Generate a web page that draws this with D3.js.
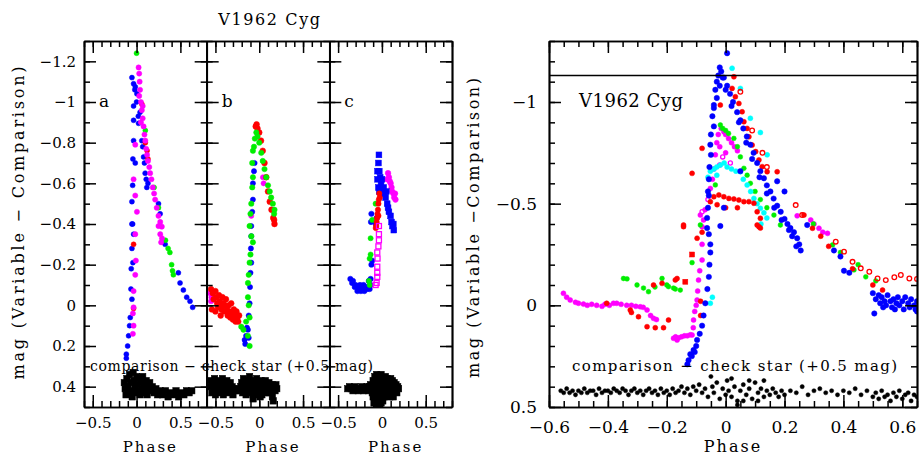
<!DOCTYPE html>
<html>
<head>
<meta charset="utf-8">
<script src="https://cdn.jsdelivr.net/npm/d3@7"></script>
<style>
  body { margin: 0; background: #fff; }
  text { font-family: "DejaVu Serif", serif; fill: #000; }
</style>
</head>
<body>
<div id="my_dataviz"></div>
<script>
// ---- data: [phase, mag] ----
var aBlue = [[-0.053,-1.12],[-0.034,-1.09],[-0.015,-1.075],[0.004,-1.04],[-0.02,-1.06],[0.0,-1.0],[-0.034,-0.98],[0.04,-0.95],
  [0.02,-0.93],[-0.034,-0.91],[0.023,-0.895],[-0.034,-0.81],[0.06,-0.81],[0.07,-0.78],[0.08,-0.73],[-0.042,-0.72],[-0.015,-0.70],
  [0.09,-0.70],[0.098,-0.65],[0.11,-0.62],[0.13,-0.60],[-0.045,-0.59],[0.117,-0.58],[-0.053,-0.51],[0.25,-0.50],[0.269,-0.45],
  [-0.053,-0.40],[-0.045,-0.40],[-0.034,-0.35],[-0.053,-0.28],[-0.042,-0.21],[-0.061,-0.18],[-0.064,-0.08],[-0.053,-0.03],
  [-0.072,0.06],[-0.08,0.10],[-0.091,0.15],[-0.102,0.20],[-0.117,0.24],[-0.117,0.26],[0.307,-0.31],[0.326,-0.30],[0.477,-0.16],
  [0.496,-0.11],[0.534,-0.075],[0.572,-0.04],[0.61,-0.02],[0.64,0.01]];
var aMagenta = [[0.023,-1.17],[0.03,-1.14],[0.035,-1.10],[0.04,-1.06],[0.03,-1.03],[0.05,-1.00],[0.06,-0.96],[0.07,-0.92],
  [0.08,-0.88],[0.09,-0.84],[0.10,-0.81],[0.11,-0.77],[0.12,-0.74],[0.13,-0.71],[0.145,-0.68],[0.155,-0.65],[0.17,-0.62],
  [0.185,-0.58],[0.20,-0.55],[0.212,-0.52],[0.23,-0.48],[0.25,-0.44],[0.27,-0.41],[0.288,-0.387],[0.25,-0.39],[0.27,-0.35],
  [0.29,-0.33],[0.28,-0.31],[-0.015,-0.79],[-0.034,-0.62],[-0.015,-0.54],[0.004,-0.46],[-0.015,-0.35],[-0.008,-0.22],
  [-0.015,-0.15],[-0.034,-0.07],[-0.034,0.01],[-0.042,0.04],[-0.034,0.10],[-0.042,0.14],[0.05,-0.90],[0.07,-0.98]];
var aRed = [[0.06,-0.99],[0.10,-0.80],[0.12,-0.76],[0.13,-0.72],[-0.034,-0.30],[-0.034,0.015]];
var aGreen = [[0.0,-1.24],[0.10,-0.86],[0.20,-0.58],[0.25,-0.48],[0.33,-0.32],[0.36,-0.28],[0.38,-0.26],[0.40,-0.20],
  [0.41,-0.17],[0.42,-0.15]];
var aCheck = [[-0.14,0.38],[-0.13,0.41],[-0.12,0.44],[-0.11,0.36],[-0.10,0.40],[-0.09,0.43],[-0.08,0.34],[-0.07,0.38],
  [-0.06,0.42],[-0.05,0.45],[-0.04,0.33],[-0.03,0.37],[-0.02,0.40],[-0.01,0.43],[0.0,0.35],[0.01,0.39],[0.02,0.42],[0.03,0.36],
  [0.04,0.44],[0.05,0.38],[0.06,0.41],[0.07,0.35],[0.08,0.43],[0.09,0.39],[0.10,0.42],[0.11,0.37],[0.12,0.44],[0.13,0.40],
  [0.15,0.38],[0.16,0.42],[0.18,0.40],[0.20,0.43],[0.22,0.41],[0.24,0.44],[0.27,0.42],[0.30,0.44],[0.33,0.42],[0.36,0.45],
  [0.39,0.43],[0.42,0.44],[0.45,0.42],[0.48,0.45],[0.51,0.43],[0.54,0.44],[0.57,0.42],[0.60,0.43],[0.63,0.42]];

var bRed = [[-0.04,-0.88],[-0.03,-0.89],[-0.02,-0.87],[0.0,-0.85],[0.02,-0.81],[0.04,-0.76],[0.06,-0.70],[0.08,-0.63],
  [0.10,-0.56],[0.12,-0.51],[0.14,-0.47],[0.16,-0.43],[0.174,-0.40],[0.17,-0.42],
  [-0.55,-0.08],[-0.53,-0.06],[-0.52,-0.03],[-0.50,-0.07],[-0.49,-0.04],[-0.48,-0.01],[-0.47,0.01],[-0.46,-0.05],[-0.45,-0.02],
  [-0.44,0.0],[-0.43,0.02],[-0.42,-0.04],[-0.41,-0.01],[-0.40,0.03],[-0.39,0.0],[-0.38,-0.03],[-0.37,0.02],[-0.36,0.05],
  [-0.35,0.0],[-0.34,0.03],[-0.33,0.06],[-0.32,-0.01],[-0.31,0.04],[-0.30,0.07],[-0.29,0.02],[-0.28,0.05],[-0.27,0.08],
  [-0.26,0.03],[-0.25,0.06],[-0.24,0.08],[-0.23,0.05],[-0.54,0.02],[-0.50,0.03],[-0.44,0.05]];
var bGreen = [[-0.034,-0.85],[-0.02,-0.83],[0.0,-0.80],[0.023,-0.75],[0.04,-0.71],[0.06,-0.67],[0.08,-0.63],[0.10,-0.59],
  [0.12,-0.56],[0.136,-0.53],[0.155,-0.50],[0.174,-0.47],[0.17,-0.45],[-0.05,-0.82],[-0.06,-0.78],[-0.072,-0.76],[-0.08,-0.70],
  [-0.072,-0.63],[-0.08,-0.58],[-0.091,-0.50],[-0.10,-0.45],[-0.11,-0.39],[-0.09,-0.34],[-0.072,-0.31],[-0.10,-0.25],
  [-0.11,-0.21],[-0.12,-0.15],[-0.129,-0.11],[-0.129,-0.04],[-0.12,0.0],[-0.11,0.06],[-0.15,0.08],[-0.205,0.105],[-0.18,0.12],
  [-0.13,0.15],[-0.11,0.20]];
var bBlue = [[-0.053,-0.70],[-0.06,-0.66],[-0.072,-0.60],[-0.072,-0.52],[-0.08,-0.46],[-0.091,-0.39],[-0.091,-0.34],
  [-0.095,-0.28],[-0.091,-0.21],[-0.10,-0.16],[-0.105,-0.09],[-0.11,-0.01],[-0.12,0.05],[-0.129,0.12],[-0.15,0.15],
  [-0.167,0.17],[-0.16,0.19],[-0.12,0.16],[-0.14,0.11]];
var bMagenta = [[0.042,-0.63],[0.05,-0.60],[-0.091,-0.44],[-0.545,-0.04],[-0.55,-0.02],[-0.56,-0.06]];
var bCheck = [[-0.56,0.40],[-0.55,0.37],[-0.54,0.43],[-0.53,0.39],[-0.52,0.41],[-0.51,0.36],[-0.50,0.44],[-0.49,0.38],
  [-0.48,0.42],[-0.47,0.40],[-0.46,0.37],[-0.45,0.43],[-0.44,0.39],[-0.43,0.41],[-0.42,0.36],[-0.41,0.44],[-0.40,0.38],
  [-0.39,0.42],[-0.38,0.40],[-0.37,0.37],[-0.36,0.43],[-0.35,0.39],[-0.34,0.41],[-0.33,0.38],[-0.32,0.42],[-0.31,0.40],
  [-0.30,0.44],[-0.29,0.41],[-0.27,0.42],[-0.25,0.41],[-0.23,0.42],[-0.21,0.40],[-0.20,0.38],[-0.19,0.43],[-0.18,0.36],
  [-0.17,0.41],[-0.16,0.39],[-0.15,0.44],[-0.14,0.37],[-0.13,0.42],[-0.12,0.40],[-0.11,0.35],[-0.10,0.43],[-0.09,0.38],
  [-0.08,0.41],[-0.07,0.37],[-0.06,0.44],[-0.05,0.39],[-0.04,0.42],[-0.03,0.36],[-0.02,0.40],[-0.01,0.43],[0.0,0.38],
  [0.01,0.41],[0.02,0.37],[0.03,0.44],[0.04,0.39],[0.05,0.42],[0.06,0.40],[0.07,0.37],[0.08,0.43],[0.09,0.39],[0.10,0.41],
  [0.11,0.38],[0.12,0.43],[0.13,0.40],[0.14,0.42],[0.15,0.39],[0.16,0.41],[0.17,0.40],[0.18,0.42],[0.19,0.39],[0.20,0.41],
  [-0.07,0.46],[0.01,0.45],[0.15,0.45],[0.16,0.47]];

var cBlueSq = [[-0.034,-0.74],[-0.04,-0.70],[-0.05,-0.66],[-0.03,-0.66],[-0.02,-0.63],[-0.05,-0.62],[-0.01,-0.60],
  [-0.04,-0.58],[0.0,-0.62],[0.02,-0.58],[0.03,-0.55],[0.042,-0.53],[0.05,-0.56],[0.06,-0.50],[0.07,-0.48],[0.08,-0.46],
  [0.098,-0.44],[0.11,-0.41],[0.12,-0.39],[0.136,-0.37],[0.13,-0.40],[-0.03,-0.56],[0.0,-0.55]];
var cBlue = [[-0.36,-0.13],[-0.34,-0.11],[-0.33,-0.12],[-0.31,-0.09],[-0.30,-0.10],[-0.28,-0.07],[-0.27,-0.09],[-0.25,-0.10],
  [-0.24,-0.07],[-0.22,-0.08],[-0.21,-0.10],[-0.20,-0.07],[-0.18,-0.09],[-0.17,-0.08],[-0.15,-0.12],[-0.14,-0.08],
  [-0.13,-0.10],[-0.11,-0.22],[-0.12,-0.20],[-0.129,-0.13],[-0.06,-0.43],[-0.07,-0.40],[-0.12,-0.45],[-0.125,-0.41]];
var cMagenta = [[0.07,-0.65],[0.08,-0.63],[0.09,-0.61],[0.10,-0.60],[0.11,-0.58],[0.117,-0.56],[0.13,-0.55],[0.14,-0.53],
  [0.155,-0.52],[0.15,-0.55],[0.06,-0.62]];
var cMagentaSq = [[-0.034,-0.39],[-0.034,-0.35],[-0.034,-0.32],[-0.04,-0.29],[-0.053,-0.26],[-0.05,-0.23],[-0.053,-0.19],
  [-0.053,-0.16],[-0.053,-0.14],[-0.06,-0.11],[-0.072,-0.10]];
var cRed = [[-0.03,-0.55],[-0.035,-0.52],[-0.04,-0.50],[-0.045,-0.47],[-0.05,-0.45],[-0.055,-0.43],[-0.06,-0.41],
  [-0.065,-0.39],[-0.07,-0.38],[-0.025,-0.53],[-0.04,-0.44]];
var cGreen = [[-0.072,-0.50],[-0.11,-0.42],[-0.129,-0.33],[-0.129,-0.25],[-0.14,-0.23],[-0.148,-0.12],[-0.14,-0.10]];
var cCheck = [[-0.39,0.41],[-0.37,0.40],[-0.35,0.41],[-0.33,0.42],[-0.31,0.40],[-0.29,0.41],[-0.27,0.42],[-0.25,0.41],
  [-0.23,0.40],[-0.21,0.42],[-0.19,0.41],[-0.17,0.40],[-0.15,0.42],[-0.14,0.40],[-0.13,0.39],[-0.12,0.41],[-0.11,0.43],
  [-0.10,0.37],[-0.10,0.45],[-0.09,0.40],[-0.09,0.48],[-0.08,0.35],[-0.08,0.42],[-0.07,0.38],[-0.07,0.46],[-0.06,0.34],
  [-0.06,0.41],[-0.06,0.49],[-0.05,0.37],[-0.05,0.44],[-0.04,0.40],[-0.04,0.47],[-0.03,0.35],[-0.03,0.42],[-0.03,0.49],
  [-0.02,0.38],[-0.02,0.45],[-0.01,0.34],[-0.01,0.41],[-0.01,0.48],[0.0,0.37],[0.0,0.44],[0.01,0.40],[0.01,0.47],[0.02,0.36],
  [0.02,0.43],[0.03,0.39],[0.03,0.45],[0.04,0.35],[0.04,0.42],[0.05,0.38],[0.05,0.44],[0.06,0.36],[0.06,0.41],[0.07,0.39],
  [0.07,0.44],[0.08,0.37],[0.08,0.42],[0.09,0.40],[0.09,0.45],[0.10,0.36],[0.10,0.43],[0.11,0.39],[0.12,0.37],[0.12,0.42],
  [0.13,0.40],[0.13,0.45],[0.14,0.38],[0.15,0.42],[0.16,0.39],[0.17,0.43],[0.18,0.40],[0.19,0.41]];

var rBlue = [[0.005,-1.24],[-0.02,-1.17],[-0.015,-1.15],[-0.025,-1.13],[-0.01,-1.12],[-0.03,-1.10],[-0.02,-1.08],
  [-0.035,-1.06],[-0.03,-1.02],[-0.04,-0.97],[-0.045,-0.93],[-0.04,-0.88],[-0.05,-0.84],[-0.052,-0.79],[-0.05,-0.74],
  [-0.055,-0.68],[-0.057,-0.62],[-0.06,-0.56],[-0.057,-0.54],[-0.06,-0.48],[-0.063,-0.43],[-0.063,-0.38],[-0.057,-0.35],
  [-0.052,-0.30],[-0.052,-0.26],[-0.055,-0.20],[-0.057,-0.14],[-0.062,-0.08],[-0.069,-0.01],[-0.075,0.05],[-0.08,0.10],
  [-0.088,0.14],[-0.097,0.17],[-0.10,0.20],[-0.109,0.22],[-0.115,0.25],[-0.126,0.27],[-0.13,0.29],[-0.12,0.24],[-0.105,0.23],
  [-0.006,-1.12],[0.005,-1.08],[0.015,-1.04],[0.025,-1.00],[0.039,-0.95],[0.05,-0.91],[0.06,-0.87],[0.072,-0.83],
  [0.084,-0.79],[0.095,-0.75],[0.107,-0.70],[0.118,-0.66],[0.13,-0.625],[0.14,-0.59],[0.152,-0.56],[0.163,-0.525],
  [0.175,-0.49],[0.187,-0.46],[0.20,-0.425],[0.21,-0.40],[0.22,-0.38],[0.232,-0.36],[0.243,-0.33],[0.25,-0.30],[0.255,-0.27],
  [0.24,-0.29],[0.226,-0.34],[0.215,-0.37],[0.0,-1.06],[0.02,-0.98],[0.045,-0.90],[0.07,-0.80],[0.09,-0.72],[0.115,-0.63],
  [0.14,-0.55],[0.165,-0.48],[0.19,-0.42],[0.05,-0.66],[-0.006,-0.48],[-0.018,-0.39],[0.175,-0.61],[0.20,-0.56],
  [-0.04,-0.985],[0.277,-0.395],[0.368,-0.27],[0.39,-0.24],[0.402,-0.17],[0.42,-0.16],
  [0.50,-0.06],[0.505,0.04],[0.51,-0.03],[0.52,-0.05],[0.525,-0.01],[0.53,-0.04],[0.54,-0.02],[0.545,0.0],[0.55,-0.05],
  [0.56,-0.02],[0.565,0.01],[0.57,-0.03],[0.58,-0.01],[0.585,-0.04],[0.59,0.0],[0.60,-0.02],[0.605,0.02],[0.61,-0.04],
  [0.62,-0.01],[0.625,0.01],[0.63,-0.03],[0.64,0.0],[0.645,0.02],[0.65,-0.02],[0.65,0.03],[0.535,0.01],[0.575,0.02]];
var rRed = [[0.028,-1.124],[0.022,-1.067],[0.033,-1.026],[0.045,-0.993],[0.056,-0.952],[0.062,-0.903],[0.073,-0.87],
  [0.079,-0.829],[0.09,-0.788],[0.102,-0.756],[0.113,-0.715],[0.124,-0.682],[0.141,-0.657],[0.175,-0.657],[-0.018,-0.985],
  [-0.08,-0.772],[-0.114,-0.649],[-0.143,-0.387],[-0.052,-0.51],[-0.04,-0.534],[-0.023,-0.543],[-0.006,-0.534],
  [0.011,-0.526],[0.028,-0.523],[0.045,-0.518],[0.062,-0.51],[0.079,-0.51],[0.096,-0.502],[0.107,-0.46],[0.118,-0.428],
  [0.113,-0.387],[-0.029,-0.495],[0.0,-0.48],[0.04,-0.48],[0.107,-0.395],[0.118,-0.38],
  [0.266,-0.444],[0.295,-0.379],[0.323,-0.34],[0.35,-0.29],[0.431,-0.18],[0.50,-0.10],[0.533,-0.075],
  [-0.404,-0.01],[-0.324,0.023],[-0.32,0.035],[-0.296,0.056],[-0.267,0.105],[-0.239,0.11],[-0.211,0.11],[-0.194,0.072],
  [-0.245,-0.10],[-0.216,-0.108],[-0.165,-0.132],[-0.171,-0.125],[-0.143,-0.395],[-0.097,-0.33],[-0.08,-0.36],
  [-0.085,-0.02],[-0.085,0.05]];
var rRedSq = [[-0.137,-0.116],[-0.114,-0.25]];
var rRedRing = [[0.238,-0.493],[0.26,-0.444],[0.374,-0.313],[0.402,-0.264],[0.431,-0.214],[0.459,-0.182],[0.488,-0.165],
  [0.516,-0.132],[0.544,-0.124],[0.573,-0.138],[0.595,-0.149],[0.624,-0.132],[0.65,-0.13],[0.05,-1.05],[0.09,-0.86],
  [0.125,-0.75],[0.14,-0.68]];
var rMagenta = [[-0.551,-0.059],[-0.54,-0.04],[-0.528,-0.026],[-0.51,-0.015],[-0.50,-0.01],[-0.483,-0.006],[-0.47,0.0],
  [-0.455,-0.005],[-0.438,0.0],[-0.42,0.005],[-0.41,-0.005],[-0.395,0.0],[-0.381,-0.01],[-0.37,-0.01],[-0.355,-0.005],
  [-0.336,0.0],[-0.32,0.0],[-0.305,0.005],[-0.29,0.007],[-0.28,0.01],[-0.267,0.023],[-0.255,0.05],[-0.245,0.064],
  [-0.235,0.07],[-0.177,0.162],[-0.17,0.155],[-0.16,0.16],[-0.15,0.155],[-0.14,0.15],[-0.13,0.15],[-0.12,0.145],
  [-0.114,0.146],[-0.165,0.171],[-0.109,0.072],[-0.105,0.03],[-0.10,0.0],[-0.097,-0.026],[-0.095,-0.07],[-0.092,-0.124],
  [-0.088,-0.17],[-0.08,-0.223],[-0.08,-0.30],[-0.08,-0.387],[-0.075,-0.42],[-0.086,-0.444],[-0.07,-0.47],[-0.11,0.11],
  [-0.052,-0.575],[-0.045,-0.62],[-0.04,-0.67],[-0.035,-0.74],[-0.03,-0.80],[-0.025,-0.84],[-0.015,-0.87],[-0.006,-0.854],
  [0.0,-0.84],[0.01,-0.82],[0.02,-0.80],[0.03,-0.78],[0.04,-0.76],[-0.02,-0.78],[0.0,-0.75],
  [0.243,-0.44],[0.289,-0.42],[0.317,-0.379],[0.346,-0.354],[0.30,-0.40],[0.33,-0.36]];
var rMagentaRing = [[-0.01,-0.73],[0.016,-0.70],[-0.02,-0.69],[-0.06,-0.52],[-0.08,-0.46]];
var rGreen = [[-0.018,-0.887],[-0.01,-0.87],[0.0,-0.86],[0.01,-0.845],[0.028,-0.821],[0.04,-0.78],[0.05,-0.73],
  [0.062,-0.674],[0.073,-0.64],[0.084,-0.60],[0.10,-0.56],[0.118,-0.52],[0.14,-0.48],[0.164,-0.444],[0.186,-0.395],
  [-0.035,-0.592],[-0.086,-0.395],[-0.114,-0.21],[0.298,-0.40],[0.363,-0.297],[0.39,-0.26],[0.436,-0.174],[0.45,-0.20],
  [0.476,-0.14],[0.51,-0.12],[-0.347,-0.132],[-0.335,-0.13],[-0.301,-0.10],[-0.279,-0.085],[-0.262,-0.067],[-0.24,-0.09],
  [-0.216,-0.132],[-0.20,-0.10],[-0.177,-0.085],[-0.194,-0.092],[-0.171,-0.08],[-0.154,-0.075]];
var rCyan = [[0.022,-1.166],[0.05,-1.067],[0.084,-0.92],[0.118,-0.85],[0.141,-0.74],[-0.052,-0.66],[-0.04,-0.67],
  [-0.03,-0.68],[-0.018,-0.69],[-0.005,-0.70],[0.005,-0.68],[0.02,-0.67],[0.035,-0.66],[0.05,-0.657],[0.06,-0.62],
  [0.073,-0.592],[0.085,-0.56],[0.096,-0.526],[0.107,-0.50],[0.118,-0.477],[0.13,-0.455],[0.14,-0.43],[-0.06,-0.63],
  [-0.03,-0.64],[-0.052,-0.01],[-0.045,-0.04],[0.12,-0.40]];
var rCheck = [[-0.56,0.42],[-0.55,0.43],[-0.54,0.41],[-0.53,0.43],[-0.52,0.42],[-0.51,0.44],[-0.50,0.42],[-0.49,0.43],
  [-0.48,0.41],[-0.47,0.43],[-0.46,0.42],[-0.45,0.42],[-0.44,0.44],[-0.43,0.41],[-0.42,0.43],[-0.41,0.42],[-0.40,0.42],
  [-0.39,0.43],[-0.38,0.41],[-0.37,0.42],[-0.36,0.43],[-0.35,0.41],[-0.34,0.42],[-0.33,0.44],[-0.32,0.42],[-0.31,0.41],
  [-0.30,0.43],[-0.29,0.42],[-0.28,0.44],[-0.27,0.42],[-0.26,0.41],[-0.25,0.43],[-0.24,0.42],[-0.23,0.44],[-0.22,0.41],
  [-0.21,0.43],[-0.20,0.42],[-0.19,0.44],[-0.18,0.41],[-0.17,0.43],[-0.16,0.42],[-0.15,0.40],[-0.14,0.43],[-0.13,0.41],
  [-0.12,0.44],[-0.11,0.40],[-0.10,0.42],[-0.09,0.39],[-0.08,0.43],[-0.07,0.41],[-0.06,0.45],[-0.05,0.35],[-0.045,0.40],
  [-0.04,0.43],[-0.03,0.38],[-0.02,0.46],[-0.01,0.41],[0.0,0.44],[0.005,0.37],[0.01,0.42],[0.02,0.45],[0.03,0.40],
  [0.04,0.47],[0.05,0.42],[0.06,0.39],[0.07,0.44],[0.08,0.41],[0.09,0.46],[0.10,0.38],[0.11,0.43],[0.12,0.41],[0.13,0.45],
  [0.14,0.42],[0.15,0.44],[0.16,0.41],[0.17,0.43],[0.18,0.45],[0.19,0.42],[0.20,0.44],[0.22,0.42],[0.24,0.43],[0.26,0.40],
  [0.28,0.44],[0.30,0.42],[0.32,0.41],[0.34,0.43],[0.36,0.42],[0.38,0.44],[0.40,0.42],[0.42,0.43],[0.44,0.41],[0.46,0.44],
  [0.48,0.42],[0.50,0.45],[0.51,0.43],[0.52,0.46],[0.53,0.42],[0.54,0.45],[0.55,0.44],[0.56,0.47],[0.57,0.43],[0.58,0.45],
  [0.59,0.42],[0.60,0.46],[0.61,0.44],[0.62,0.43],[0.63,0.47],[0.64,0.44],[0.65,0.45],[0.02,0.36],[0.08,0.37],[0.13,0.37],
  [0.04,0.49],[0.06,0.47],[0.11,0.47]];
var maxLine = -1.13;

// tick values
var leftMagTicks = [-1.2, -1, -0.8, -0.6, -0.4, -0.2, 0, 0.2, 0.4];
var magMinor = [-1.3,-1.2,-1.1,-1,-0.9,-0.8,-0.7,-0.6,-0.5,-0.4,-0.3,-0.2,-0.1,0,0.1,0.2,0.3,0.4,0.5];
var leftPhaseTicks = [-0.5, 0, 0.5];
var leftPhaseMinor = [-0.6,-0.5,-0.4,-0.3,-0.2,-0.1,0,0.1,0.2,0.3,0.4,0.5,0.6,0.7,0.8];
var rightMagTicks = [-1, -0.5, 0, 0.5];
var rightPhaseTicks = [-0.6, -0.4, -0.2, 0, 0.2, 0.4, 0.6];
var rightPhaseMinor = [-0.6,-0.55,-0.5,-0.45,-0.4,-0.35,-0.3,-0.25,-0.2,-0.15,-0.1,-0.05,0,0.05,0.1,0.15,0.2,0.25,
  0.3,0.35,0.4,0.45,0.5,0.55,0.6,0.65];

var BLUE = "#0000ff", MAG = "#ff00ff", RED = "#ff0000", GRN = "#00ee00", CYAN = "#00ffff";

var svg = d3.select("#my_dataviz")
  .append("svg")
    .attr("width", 924)
    .attr("height", 457);

var y = d3.scaleLinear().domain([-1.3, 0.5]).range([41, 407]);

var fmt = function(d) { return d === 0 ? "0" : String(+d.toFixed(2)).replace("-", "\u2212"); };

function frame(g, x, major, minor, yMajor, opts) {
  var h = y.range()[1];
  var xl = x.range()[0], xr = x.range()[1];
  var lab = opts.labels;
  // bottom / top
  g.append("g").attr("transform", "translate(0," + h + ")")
    .call(d3.axisBottom(x).tickValues(minor).tickSize(-6).tickSizeOuter(0).tickFormat(""));
  g.append("g").attr("transform", "translate(0," + h + ")")
    .call(d3.axisBottom(x).tickValues(major).tickSize(-12).tickSizeOuter(0).tickPadding(opts.xPad)
      .tickFormat(fmt))
    .selectAll("text").attr("font-size", opts.fs);
  g.append("g").attr("transform", "translate(0,41)")
    .call(d3.axisTop(x).tickValues(minor).tickSize(-6).tickSizeOuter(0).tickFormat(""));
  g.append("g").attr("transform", "translate(0,41)")
    .call(d3.axisTop(x).tickValues(major).tickSize(-12).tickSizeOuter(0).tickFormat(""));
  // left / right
  g.append("g").attr("transform", "translate(" + xl + ",0)")
    .call(d3.axisLeft(y).tickValues(magMinor).tickSize(-6).tickSizeOuter(0).tickFormat(""));
  var la = g.append("g").attr("transform", "translate(" + xl + ",0)")
    .call(d3.axisLeft(y).tickValues(yMajor).tickSize(-12).tickSizeOuter(0).tickPadding(opts.yPad)
      .tickFormat(lab ? fmt : ""));
  la.selectAll("text").attr("font-size", opts.fs);
  g.append("g").attr("transform", "translate(" + xr + ",0)")
    .call(d3.axisRight(y).tickValues(magMinor).tickSize(-6).tickSizeOuter(0).tickFormat(""));
  g.append("g").attr("transform", "translate(" + xr + ",0)")
    .call(d3.axisRight(y).tickValues(yMajor).tickSize(-12).tickSizeOuter(0).tickFormat(""));
  g.selectAll(".domain").attr("stroke-width", 1.7);
  g.selectAll(".tick line").attr("stroke-width", 1.5);
  g.selectAll(".tick text").attr("font-family", "DejaVu Serif");
}

function dots(g, data, x, color, shape, r) {
  var sel = g.append("g").selectAll("x").data(data).enter();
  if (shape === "circle" || shape === "ring") {
    sel.append("circle")
      .attr("cx", function(d) { return x(d[0]); })
      .attr("cy", function(d) { return y(d[1]); })
      .attr("r", shape === "ring" ? r * 0.8 : r)
      .attr("fill", shape === "ring" ? "none" : color)
      .attr("stroke", color)
      .attr("stroke-width", shape === "ring" ? 1.3 : 0.5);
  } else {
    sel.append("rect")
      .attr("x", function(d) { return x(d[0]) - r; })
      .attr("y", function(d) { return y(d[1]) - r; })
      .attr("width", 2 * r).attr("height", 2 * r)
      .attr("fill", shape === "osquare" ? "none" : color)
      .attr("stroke", color)
      .attr("stroke-width", shape === "osquare" ? 1.3 : 0.5);
  }
}

// ---- left figure: three panels ----
var pw = 122.67;
var panels = [
  { x0: 84, name: "a", series: [[aCheck, "#000", "square", 3.2], [aBlue, BLUE, "circle", 2.5], [aRed, RED, "circle", 2.5],
      [aGreen, GRN, "circle", 2.5], [aMagenta, MAG, "circle", 2.6]] },
  { x0: 84 + pw, name: "b", series: [[bCheck, "#000", "square", 3.2], [bMagenta, MAG, "circle", 2.6], [bBlue, BLUE, "circle", 2.6],
      [bRed, RED, "circle", 2.9], [bGreen, GRN, "circle", 2.7]] },
  { x0: 84 + 2 * pw, name: "c", series: [[cCheck, "#000", "square", 3.2], [cBlue, BLUE, "circle", 2.7], [cGreen, GRN, "circle", 2.6],
      [cMagenta, MAG, "circle", 2.8], [cBlueSq, BLUE, "square", 2.9], [cRed, RED, "circle", 2.7],
      [cMagentaSq, MAG, "osquare", 2.5]] }
];

panels.forEach(function(p, i) {
  var x = d3.scaleLinear().domain([-0.6, 0.8]).range([p.x0, p.x0 + pw]);
  svg.append("clipPath").attr("id", "clip" + i)
    .append("rect").attr("x", p.x0).attr("y", 41).attr("width", pw).attr("height", 366);
  var g = svg.append("g").attr("clip-path", "url(#clip" + i + ")");
  p.series.forEach(function(s) { dots(g, s[0], x, s[1], s[2], s[3]); });
  frame(svg.append("g"), x, leftPhaseTicks, leftPhaseMinor, leftMagTicks,
    { labels: i === 0, fs: 15, xPad: 10, yPad: 8 });
  svg.append("text").attr("x", p.x0 + 15).attr("y", 107).attr("font-size", 17).text(p.name);
  svg.append("text").attr("x", p.x0 + pw / 2 + 5).attr("y", 452).attr("font-size", 15)
    .attr("letter-spacing", 2).attr("text-anchor", "middle").text("Phase");
});

svg.append("text").attr("x", 90).attr("y", 371).attr("font-size", 14)
  .attr("textLength", 283).attr("lengthAdjust", "spacing")
  .text("comparison \u2212 check star (+0.5 mag)");
svg.append("text").attr("x", 270).attr("y", 25).attr("font-size", 16).attr("letter-spacing", 1.6)
  .attr("text-anchor", "middle").text("V1962 Cyg");
svg.append("text").attr("transform", "translate(24,223) rotate(-90)").attr("font-size", 16)
  .attr("text-anchor", "middle").attr("textLength", 313).attr("lengthAdjust", "spacing")
  .text("mag (Variable \u2212 Comparison)");

// ---- right figure ----
var xr = d3.scaleLinear().domain([-0.6, 0.65]).range([549, 917]);
svg.append("clipPath").attr("id", "clipR")
  .append("rect").attr("x", 549).attr("y", 41).attr("width", 368).attr("height", 366);
var gr = svg.append("g").attr("clip-path", "url(#clipR)");
[[rCheck, "#000", "circle", 2.1], [rMagenta, MAG, "circle", 2.5], [rMagentaRing, MAG, "ring", 2.6],
 [rGreen, GRN, "circle", 2.4], [rCyan, CYAN, "circle", 2.5], [rRed, RED, "circle", 2.5], [rRedSq, RED, "square", 2.5],
 [rRedRing, RED, "ring", 2.9], [rBlue, BLUE, "circle", 2.7]]
  .forEach(function(s) { dots(gr, s[0], xr, s[1], s[2], s[3]); });

svg.append("line")
  .attr("x1", 549).attr("x2", 917)
  .attr("y1", y(maxLine)).attr("y2", y(maxLine))
  .attr("stroke", "#000").attr("stroke-width", 1.5);

frame(svg.append("g"), xr, rightPhaseTicks, rightPhaseMinor, rightMagTicks,
  { labels: true, fs: 17, xPad: 14, yPad: 12 });

svg.append("text").attr("x", 579).attr("y", 107).attr("font-size", 18).attr("letter-spacing", 0.5).text("V1962 Cyg");
svg.append("text").attr("x", 572).attr("y", 371).attr("font-size", 15)
  .attr("textLength", 325).attr("lengthAdjust", "spacing")
  .text("comparison  \u2212  check star (+0.5 mag)");
svg.append("text").attr("x", 733).attr("y", 452).attr("font-size", 16).attr("letter-spacing", 2)
  .attr("text-anchor", "middle").text("Phase");
svg.append("text").attr("transform", "translate(479,228) rotate(-90)").attr("font-size", 16)
  .attr("text-anchor", "middle").attr("textLength", 300).attr("lengthAdjust", "spacing")
  .text("mag (Variable \u2212Comparison)");
</script>
</body>
</html>
